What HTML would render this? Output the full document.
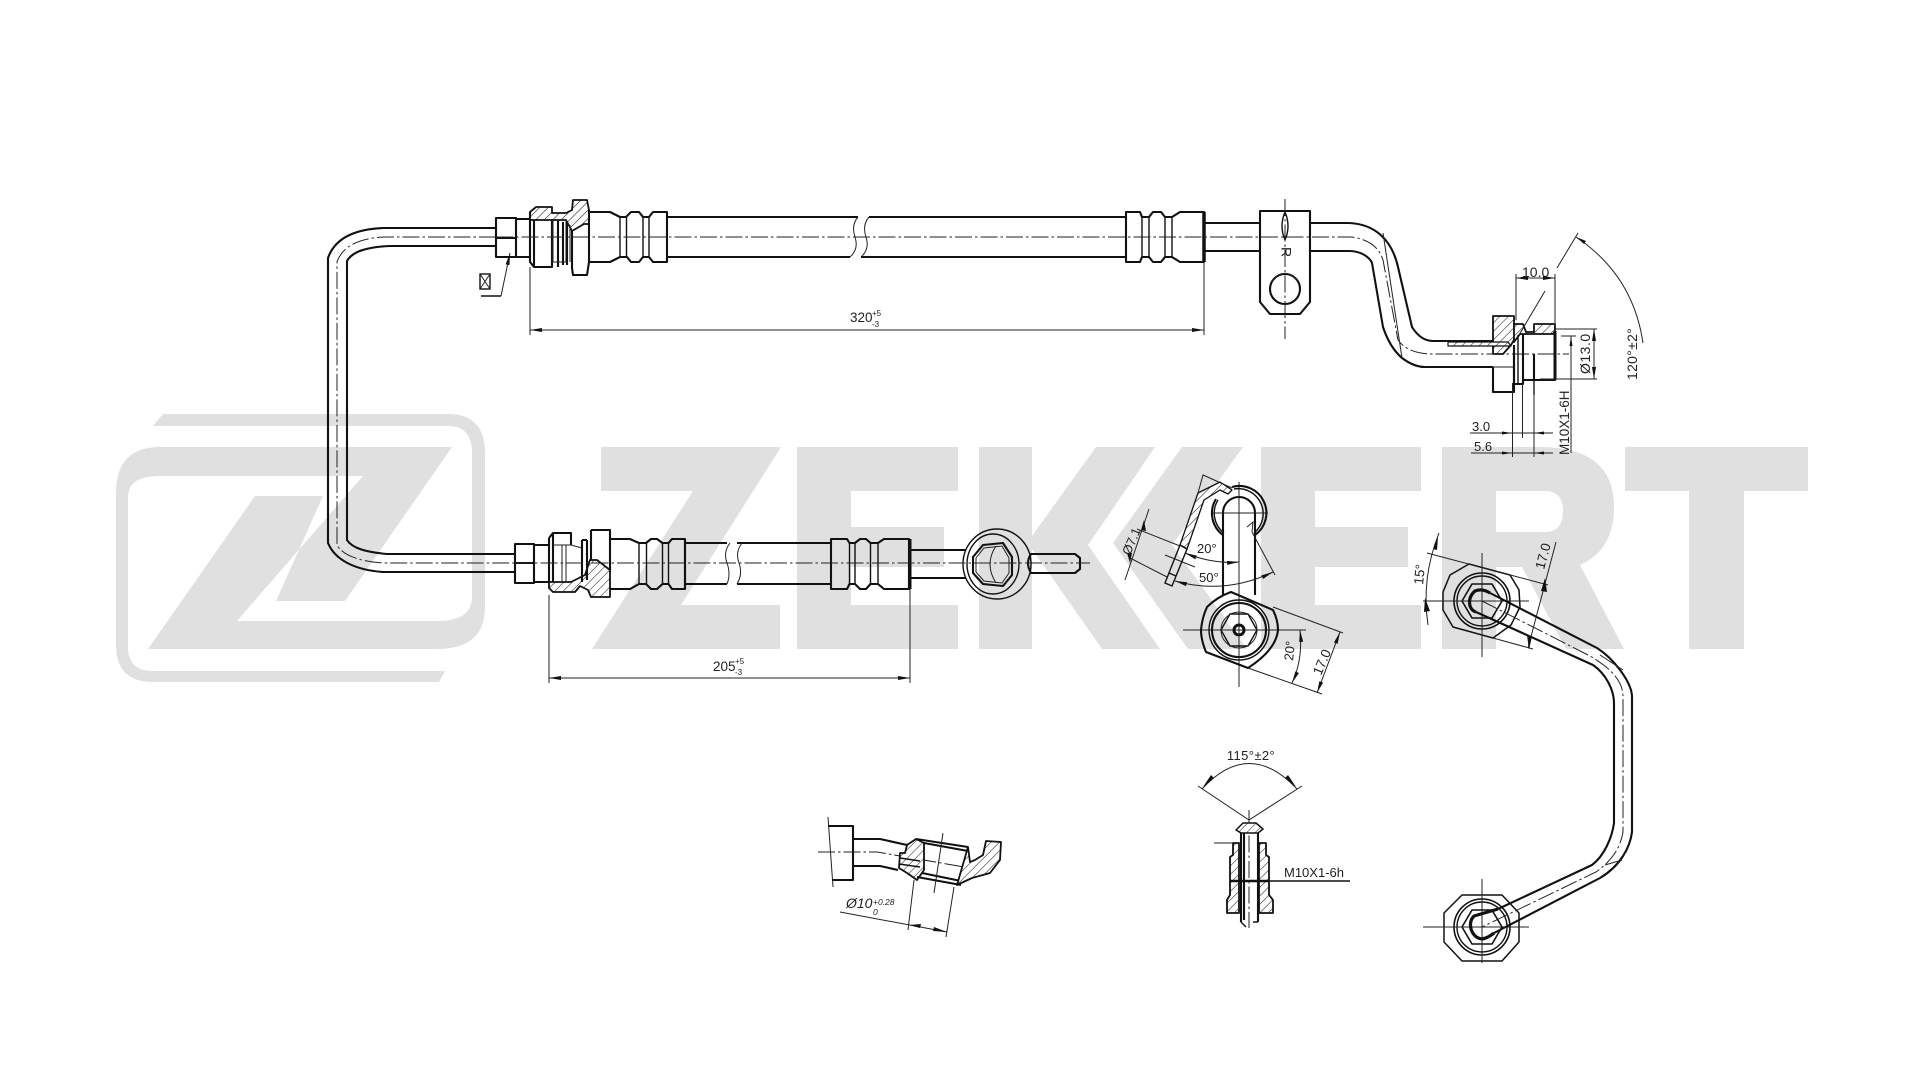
<!DOCTYPE html>
<html lang="en"><head><meta charset="utf-8"><title>Brake hose drawing</title>
<style>
html,body{margin:0;padding:0;background:#fff;width:1920px;height:1080px;overflow:hidden}
svg{display:block}
.t{fill:none;stroke:#111;stroke-width:2.1;stroke-linejoin:round}
.m{fill:none;stroke:#111;stroke-width:1.4}
.n{fill:none;stroke:#222;stroke-width:1}
.h{fill:url(#hatch);stroke:#111;stroke-width:1.8;stroke-linejoin:round}
.c{fill:none;stroke:#222;stroke-width:1;stroke-dasharray:17 3 2.5 3}
.d{fill:none;stroke:#222;stroke-width:1;marker-start:url(#a);marker-end:url(#a)}
text{font-family:"Liberation Sans",sans-serif;fill:#222;font-size:13.5px}
</style></head><body>
<svg width="1920" height="1080" viewBox="0 0 1920 1080" xmlns="http://www.w3.org/2000/svg">
<defs>
<pattern id="hatch" width="6" height="6" patternUnits="userSpaceOnUse" patternTransform="rotate(45)"><rect width="6" height="6" fill="#fff"/><line x1="0" y1="0" x2="0" y2="6" stroke="#222" stroke-width="1.1"/></pattern>
<marker id="a" viewBox="0 0 12 4" refX="12" refY="2" markerWidth="12" markerHeight="4" markerUnits="userSpaceOnUse" orient="auto-start-reverse"><path d="M0,0L12,2L0,4z" fill="#111"/></marker>
<g id="bolt">
<circle r="28" class="t" style="stroke-width:1.6"/><circle r="25" class="m"/>
<polygon points="-20,0 -10,-17 10,-17 20,0 10,17 -10,17" class="t" style="stroke-width:1.6"/>
</g>
</defs>
<!-- watermark -->
<g fill="#e0e0e0">
<path d="M163,414H448Q485,414 485,453V607Q485,649 437,649H148L255,496H323L276,601H345L452,447H160Q116,447 116,493V645Q116,682 153,682H439L445,671H153Q128,671 128,647V497Q128,476 160,476H363L237,621H437Q472,621 472,597V453Q472,426 448,426H153Z"/>
<polygon points="601,447 781,447 681,605 780,605 780,649 592,649 693,491 601,491"/>
<polygon points="797,447 958,447 958,491 851,491 851,527 944,527 944,567 851,567 851,605 958,605 958,649 797,649"/>
<polygon points="979,447 1032,447 1032,536 1096,447 1155,447 1088,545 1160,649 1102,649 1032,549 1032,649 979,649"/>
<polygon points="1182,447 1243,447 1172,545 1247,649 1188,649 1113,543"/>
<polygon points="1261,447 1421,447 1421,491 1315,491 1315,527 1408,527 1408,567 1315,567 1315,605 1421,605 1421,649 1261,649"/>
<path fill-rule="evenodd" d="M1442,447H1540Q1614,447 1614,507Q1614,550 1580,565L1624,649H1566L1522,567H1496V649H1442ZM1496,491V532H1545Q1563,532 1563,511Q1563,491 1545,491Z"/>
<polygon points="1625,447 1808,447 1808,491 1744,491 1744,649 1689,649 1689,491 1625,491"/>
</g>

<!-- left long steel pipe -->
<path class="t" d="M496,228H384C355,229 335,238 328,258V543C335,560 355,570 383,572H515"/>
<path class="t" d="M496,246H390C365,247 352,252 347,261V540C352,548 365,552 387,554H515"/>
<path class="c" d="M496,237H385C358,238 342,247 337,262V545C342,555 360,562 385,563H515"/>

<!-- top fitting -->
<path class="t" d="M496,218H516V257H496ZM496,238H516M516,219H530M516,257H530"/>
<path class="h" d="M530,212L536,207H552V213H566L572,210L573,200H587L589,210V224H584L572,231L566,220H530Z"/>
<path class="t" d="M530,212V262L534,267H552V220M534,220V267M558,220V267M572,231V268L573,275H587L589,262V210"/>
<path class="n" d="M553,220V262M566,220V262H552M570,225V262"/>
<path class="t" d="M563,222V265M567,222V265"/>
<path class="t" d="M590,212H610L620,217H626L631,212H639L643,217H649L653,212H667V262H653L649,257H643L639,262H631L627,257H620L610,262H590"/>
<path class="m" d="M620,217V257M626.500,217V257M643,217V257M649,217V257"/>
<!-- top hose -->
<path class="t" d="M667,217H858M667,257H850M869,217H1126M861,257H1126"/>
<path class="n" d="M858,217Q851,225 855,237T850,257M869,217Q862,225 866,237T861,257"/>
<path class="t" d="M1126,212H1140L1142,217H1149L1153,212H1161L1165,217H1172L1180,212H1204V262H1180L1172,257H1165L1161,262H1153L1149,257H1142L1140,262H1126Z"/>
<path class="m" d="M1142,217V257M1149,217V257M1165,217V257M1172,217V257"/>
<path d="M1204,212V262" stroke="#111" stroke-width="3.5" fill="none"/>
<!-- steel right -->
<path class="t" d="M1204,223H1260M1204,251H1260"/>
<path class="t" d="M1260,211H1310V302L1300,314H1270L1260,302Z"/>
<path class="t" d="M1310,223H1349C1375,224 1392,240 1398,267L1412,327C1417,335 1424,341 1433,341H1493"/>
<path class="t" d="M1310,251H1349C1362,251 1370,258 1372,263L1383,327C1388,342 1395,352 1402,358C1410,364 1418,367 1425,367H1493"/>
<circle cx="1285" cy="289" r="15" class="t"/><path class="n" d="M1272,281A15,15 0 0 1 1298,281"/>
<path class="m" d="M1285,212Q1279,226 1285,240Q1291,226 1285,212Z"/>
<text x="1285" y="252" transform="rotate(90 1285 252)" text-anchor="middle" dominant-baseline="middle" style="font-size:14px">R</text>
<path class="c" d="M1285,199V339"/>
<path class="c" d="M496,237H1352C1372,240 1380,250 1383,260L1398,340C1405,350 1418,354 1433,354H1569"/>
<path class="n" d="M1383,233L1402,358"/>
<!-- right fitting -->
<path class="h" d="M1493,316H1514V325L1520,330L1511,345L1503,354H1493Z"/>
<path class="t" d="M1493,367V392H1514V354"/>
<path class="n" d="M1493,367H1514"/>
<path class="h" d="M1448,342H1508L1511,346H1448Z" style="stroke-width:1.2"/>
<path class="h" d="M1514,324H1523L1526,332H1534V324H1555V331L1553,334H1520L1514,342Z"/>
<path class="t" d="M1523,334V384H1514V345M1555,331V380H1534V354M1534,380H1523"/>
<path class="m" d="M1518,335V384M1534,354V395"/>
<path d="M1555,331V380" stroke="#111" stroke-width="3" fill="none"/>

<!-- top dimensions -->
<path class="n" d="M530,267V335M1204,262V335"/>
<path class="d" d="M530,330H1204"/>
<text x="850" y="322">320</text><text x="872" y="316" style="font-size:8px">+5</text><text x="872" y="327" style="font-size:8px">-3</text>
<!-- square symbol -->
<rect x="480" y="274" width="10" height="15" class="m"/><path class="n" d="M480,274L490,289M490,274L480,289"/>
<path class="m" d="M481,296H501"/><path class="n" d="M501,296L510,253" marker-end="url(#a)"/>
<!-- right dims -->
<path class="n" d="M1516,274V320M1555,274V324"/>
<path class="d" d="M1516,278H1555"/><text x="1522" y="277" style="font-size:14px">10.0</text>
<path class="n" d="M1555,329H1597M1540,379H1597"/>
<path class="d" d="M1594,329V379"/>
<text transform="translate(1590,374) rotate(-90)" style="font-size:14px;letter-spacing:.5px">Ø13.0</text>
<text transform="translate(1569,455) rotate(-90)" style="font-size:13.500px">M10X1-6H</text>
<path class="n" d="M1571,336V453M1561,336H1576"/><path d="M1569.500,346L1571,336L1572.500,346z" fill="#111"/>
<path class="n" d="M1512.500,383V457M1522.500,384V438M1534,384V457"/>
<path class="n" d="M1470,433H1553M1471,453H1553"/>
<path d="M1512,433L1502,431.500V434.500zM1534,433L1544,431.500V434.500zM1512,453L1502,451.500V454.500zM1534,453L1544,451.500V454.500z" fill="#111"/>
<text x="1472" y="431" style="font-size:13px">3.0</text><text x="1474" y="451" style="font-size:13px">5.6</text>
<path class="n" d="M1557,268L1578,233M1519,335L1545,291"/>
<path class="n" d="M1576,237Q1633,275 1643,343"/>
<path d="M1576,237L1586,241L1584,244z" fill="#111"/>
<text transform="translate(1637,380) rotate(-90)" style="font-size:14px;letter-spacing:.3px">120°±2°</text>

<!-- bottom fitting -->
<path class="t" d="M515,544H534V583H515ZM515,563H534M534,545H549M534,582H549"/>
<path class="t" d="M549,538L553,533H571V545M549,538V582M553,533V582"/>
<path class="h" d="M549,582H571L585,575L590,560H597L610,570V597H591L588,590L580,586L575,592H553L549,588Z"/>
<path class="n" d="M553,545H571L582,548V582M566,545V582M562,545V582"/>
<path class="t" d="M582,540H587M582,582V540M587,540V580M591,530H610V570M591,530V560"/>
<path class="t" d="M610,539H630L639,543H646L651,539H657L662.500,543H668.500L672,539H685V589H672L668.500,584H662.500L657,589H651L646,584H639L630,589H610"/>
<path class="m" d="M639,543V584M646.500,543V584M662.500,543V584M668.500,543V584"/>
<path class="t" d="M685,539V589"/>
<path class="t" d="M685,543H727M685,584H727M737,543H831M737,584H831"/>
<path class="n" d="M730,543Q723,552 727,563T727,584M742,543Q735,552 739,563T737,584"/>
<path class="t" d="M831,539H847L849.500,543H855L860,539H866L870.500,543H878L884,539H909V589H884L878,584H870.500L866,589H860L855,584H849.500L847,589H831Z"/>
<path class="m" d="M849.500,543V584M855,543V584M870.500,543V584M878,543V584"/>
<path d="M910,539V589" stroke="#111" stroke-width="3" fill="none"/>
<path class="t" d="M910,550H966M910,578H966"/>
<!-- banjo -->
<ellipse cx="997" cy="564" rx="34" ry="35" class="m"/>
<ellipse cx="993" cy="564" rx="26" ry="30" class="m"/>
<polygon points="973,557 983,545 1003,543 1012,557 1012,575 1003,586 983,584 973,573" class="t"/>
<polygon points="976,558 984,548 1002,546 1009,558 1009,573 1002,583 984,581 976,572" class="n"/>
<path class="n" d="M996,546Q984,564 996,583"/>
<path class="t" d="M1031,554H1075L1080,558V569L1075,573H1031Q1025,563 1031,554Z"/>
<path class="c" d="M515,563H1090"/>
<!-- bottom dim -->
<path class="n" d="M549,595V683M910,589V683"/>
<path class="d" d="M549,678H910"/>
<text x="713" y="671">205</text><text x="735" y="664" style="font-size:8px">+5</text><text x="735" y="675" style="font-size:8px">-3</text>

<!-- small bracket view -->
<path class="n" d="M1183,630H1306M1239,482V687"/>
<path class="t" d="M1231,592L1273,610Q1278,620 1278,630Q1276,650 1248,668L1206,652Q1201,640 1201,630Q1202,618 1207,607Q1217,597 1231,592Z"/>
<circle cx="1239" cy="630" r="30" class="m"/><circle cx="1239" cy="630" r="27" class="t"/>
<polygon points="1221,630 1230,614 1248,614 1257,630 1248,646 1230,646" class="m"/>
<circle cx="1239" cy="630" r="18" class="n"/>
<circle cx="1239" cy="630" r="5" fill="none" stroke="#111" stroke-width="3"/>
<path class="t" d="M1223,595V513A16,16 0 0 1 1255,513V595"/>
<path class="t" d="M1216,499A27,27 0 0 0 1223,535M1232,487A27,27 0 0 1 1255,535"/>
<path class="m" d="M1218,500A25,25 0 0 0 1224,533M1234,489A25,25 0 0 1 1254,533"/>
<path class="n" d="M1212,513H1268"/>
<path class="h" d="M1180,545L1198,493L1220,482L1232,490L1228,494L1220,490L1204,500L1187,549Z" style="stroke-width:1.3"/>
<path class="m" d="M1180,545L1165,583L1172,586L1187,549ZM1169,573L1176,576"/>
<path class="n" d="M1198,493L1203,475L1232,488M1252,532L1275,575M1247,527L1253,522L1252,532"/>
<path class="n" d="M1137,529L1180,546M1130,558L1167,577M1165,555L1195,567"/>
<path class="n" d="M1149,509L1125,580"/>
<path d="M1144,520L1146,531L1141,530zM1130,563L1127,553L1132,553z" fill="#111"/>
<text transform="translate(1130,556) rotate(-67)" style="font-size:13px">Ø7.1</text>
<path class="d" d="M1185,553Q1212,564 1239,562"/>
<text x="1197" y="553" style="font-size:13px">20°</text>
<path class="d" d="M1175,581Q1225,595 1273,572"/>
<text x="1199" y="582" style="font-size:13px">50°</text>
<path class="n" d="M1273,607L1343,633M1248,668L1322,694"/>
<path class="d" d="M1340,632L1317,693"/>
<text transform="translate(1321,676) rotate(-67)" style="font-size:13.500px">17.0</text>
<path class="d" d="M1300,630Q1303,660 1292,683"/>
<text transform="translate(1293,661) rotate(-84)" style="font-size:13px">20°</text>

<!-- curved pipe view -->
<path class="t" d="M1469,564L1510,575L1519,590L1520,607L1511,625L1493,638L1453,627L1443,610V592L1450,575Z" style="stroke-width:1.500"/>
<use href="#bolt" x="1482" y="601"/>
<path class="n" d="M1423,601H1529M1482,553V657"/>
<path class="t" d="M1490,593L1597,648C1613,658 1632,682 1632,697V832C1630,848 1620,866 1600,878L1494,933"/>
<path class="t" d="M1476,612L1593,665C1606,674 1614,690 1614,703V823C1612,838 1604,856 1592,865L1498,909"/>
<path d="M1490,593Q1482,588 1475,591Q1468,597 1470,606Q1472,611 1476,612" fill="none" stroke="#111" stroke-width="3.2"/>
<path class="c" d="M1482,601L1590,656C1610,668 1623,680 1623,697V832C1620,850 1610,862 1596,872L1482,927"/>
<path class="n" d="M1600,655L1623,670M1605,865L1622,860"/>
<path class="t" d="M1462,895H1502L1519,913V942L1502,961H1462L1444,942V913Z" style="stroke-width:1.500"/>
<use href="#bolt" x="1482" y="927"/>
<path class="n" d="M1423,927H1529M1482,879V963"/>
<path d="M1498,909L1474,916Q1469,921 1471,929Q1474,938 1482,939Q1488,938 1494,933" fill="none" stroke="#111" stroke-width="3.2"/>
<path class="n" d="M1427,553L1548,585M1493,638L1533,649"/>
<path class="n" d="M1556,542L1528,648"/>
<path d="M1545,578L1541,591L1547,592zM1529,650L1532,636L1527,635z" fill="#111"/>
<text transform="translate(1544,570) rotate(-75)" style="font-size:13.500px">17.0</text>
<path class="n" d="M1439,533Q1421,578 1428,625"/>
<path d="M1438,537L1433,549L1437,550zM1425,598L1430,611L1424,612z" fill="#111"/>
<text transform="translate(1423,585) rotate(-84)" style="font-size:13.500px">15°</text>

<!-- detail left -->
<path class="n" d="M828,817L833,887"/>
<path class="t" d="M828,826H853V880H832M853,839H880L907,845M853,866H880L898,870"/>
<path class="c" d="M818,852H877L982,870"/>
<path class="h" d="M916,839L907,845L905,853L900,853L899,868L907,873L917,880L924,870L924,843Z"/>
<path class="t" d="M916,839L968,847M917,877L961,885M924,843L968,851M922,873L961,881"/>
<path class="m" d="M900,858L920,861M899,864L920,867"/>
<path class="h" d="M968,847L957,885L972,878L990,873L1000,860L1001,842L986,841L983,855L975,860L970,862Z"/>
<path class="n" d="M943,833L934,893"/>
<path class="n" d="M914,880L908,930M954,887L946,937"/>
<path class="n" d="M840,912L947,932"/>
<path d="M909,925L921,924L920,928zM947,932L934,927L933,931z" fill="#111"/>
<text x="846" y="908" style="font-size:14px;font-style:italic">Ø10</text>
<text x="873" y="905" style="font-size:8.500px;font-style:italic">+0.28</text>
<text x="873" y="915" style="font-size:8.500px;font-style:italic">0</text>

<!-- detail right -->
<text x="1251" y="760" text-anchor="middle" style="font-size:13px;letter-spacing:.4px">115°±2°</text>
<path class="n" d="M1198,786L1249,820L1302,786"/>
<path class="n" d="M1202,789Q1249,738 1297,789"/>
<path d="M1203,787L1211,775L1214,778zM1296,787L1288,775L1285,778z" fill="#111"/>
<path class="c" d="M1249,810V928"/>
<path class="h" d="M1236,830L1243,823H1256L1263,829L1258,833H1241Z" style="stroke-width:1.500"/>
<path class="t" d="M1241,833V922M1258,833V922M1244,833V920"/>
<path class="m" d="M1241,922L1246,927M1253,922H1258"/>
<path class="h" d="M1233,843H1239V913H1227V900L1230,895V857L1233,855Z"/>
<path class="h" d="M1266,843H1259V913H1273V900L1269,895V857L1266,855Z"/>
<path class="n" d="M1214,843H1233"/>
<path class="m" d="M1230,881H1350"/>
<path d="M1230,881H1268" stroke="#111" stroke-width="2.500" fill="none"/>
<text x="1284" y="877" style="font-size:13px">M10X1-6h</text>
</svg>
</body></html>
